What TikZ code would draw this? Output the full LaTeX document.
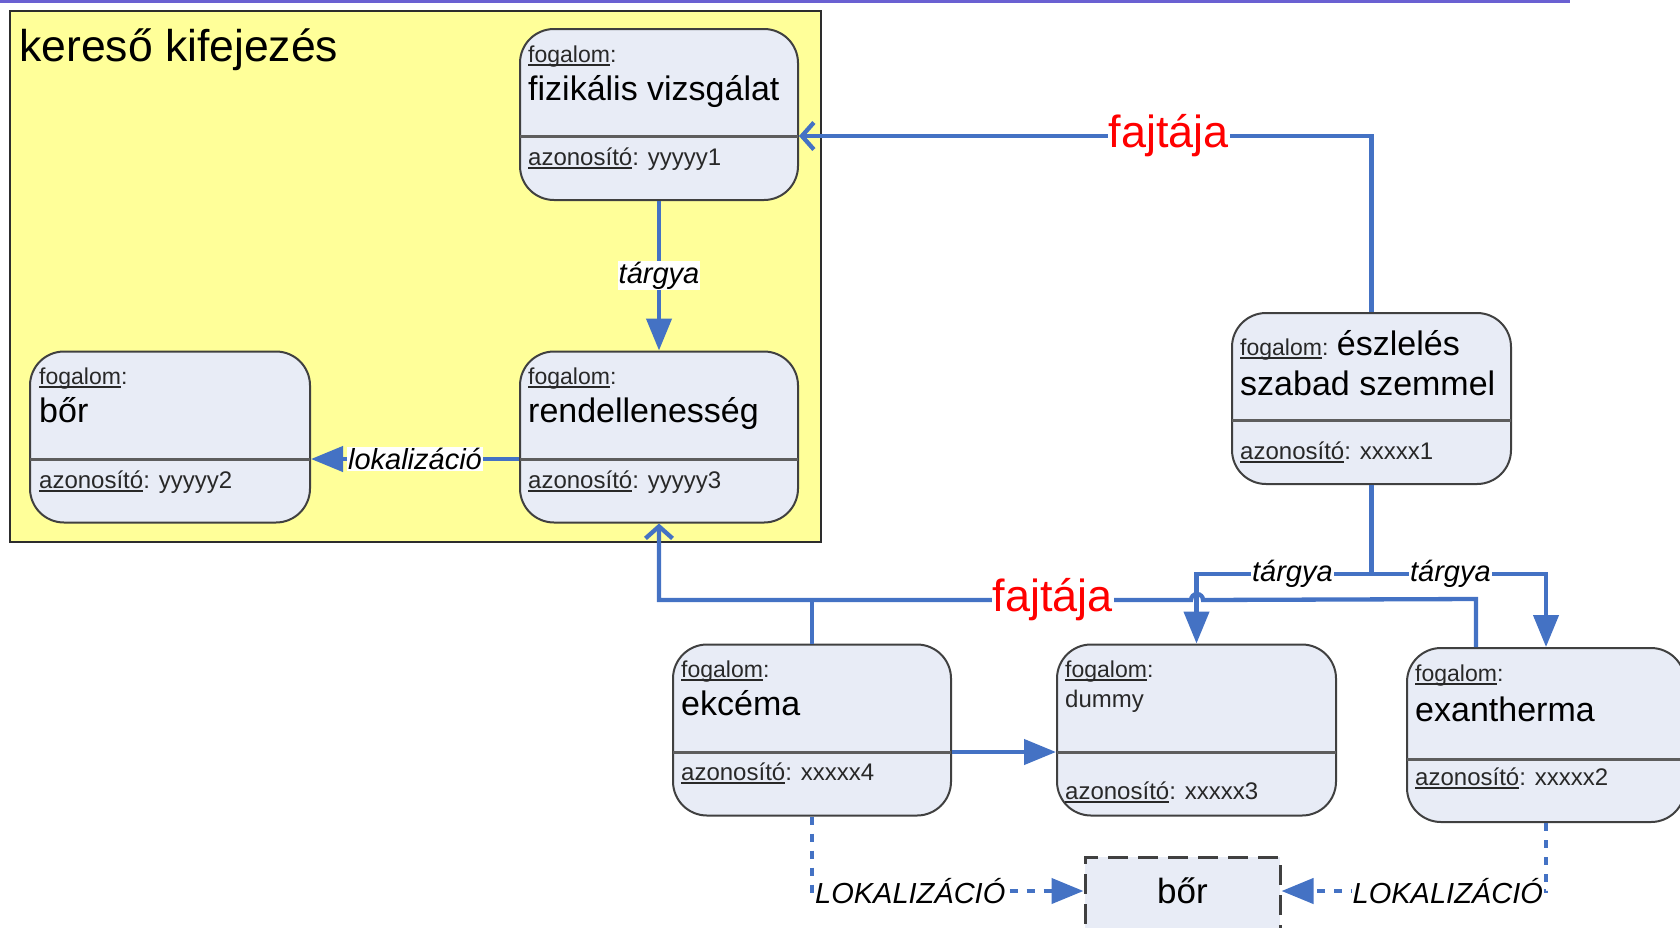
\documentclass[tikz,border=0pt]{standalone}
\usepackage{fontspec}
\setmainfont{Liberation Sans}
\usetikzlibrary{arrows.meta}
\definecolor{lnblue}{RGB}{68,114,196}
\definecolor{boxfill}{RGB}{232,236,246}
\definecolor{boxline}{RGB}{64,64,64}
\definecolor{yel}{RGB}{255,255,153}
\definecolor{topline}{RGB}{106,96,210}
\definecolor{txtgray}{RGB}{40,40,40}
\definecolor{fajred}{RGB}{255,0,0}
\newcommand{\fsz}[1]{\fontsize{#1}{#1}\selectfont}
\newcommand{\myul}[1]{\setbox0\hbox{#1}\rlap{\vrule height -0.1em depth 0.16em width \wd0}\box0}
\begin{document}
\begin{tikzpicture}[x=1pt,y=-1pt,
 concept/.style={draw=boxline, line width=2pt, fill=boxfill, rounded corners=34pt, minimum width=278pt, minimum height=171pt, inner sep=0pt},
 divider/.style={draw=boxline!85, line width=3pt},
 small/.style={anchor=base west, inner sep=0pt, font=\fsz{23}, text=txtgray},
 big/.style={anchor=base west, inner sep=0pt, font=\fsz{34}, text=black},
 conn/.style={draw=lnblue, line width=4.3pt},
 tri/.style={-{Triangle[length=32pt,width=25pt]}},
 barb/.style={-{Straight Barb[length=12pt,width=27pt]}},
 dotc/.style={conn, dash pattern=on 8pt off 9pt},
 lbl/.style={fill=white, inner sep=1pt, font=\fsz{29}\itshape, text=black},
 fajlbl/.style={fill=white, inner sep=1pt, font=\fsz{45}, text=fajred}]
\useasboundingbox (0,0) rectangle (1680,927);
\draw[topline, line width=3pt] (0,1) -- (1570,1);
% yellow frame
\node[draw=boxline!70!black, line width=2pt, fill=yel, minimum width=811pt, minimum height=531pt, inner sep=0pt, anchor=north west] (yb) at (9,10) {};
\node[anchor=base west, inner sep=0pt, font=\fsz{44.5}] (title) at (19,61) {kereső kifejezés};
% boxes
\node[concept] (fiz) at (659,114.5) {};
\draw[divider] (520,136) -- (798,136);
\node[small] (fizF) at (528,62) {\myul{fogalom}:};
\node[big] (fizN) at (528,100) {fizikális vizsgálat};
\node[small,font=\fsz{24}] (fizA) at (528,165) {\myul{azonosító}: yyyyy1};
\node[concept] (ren) at (659,437) {};
\draw[divider] (520,459) -- (798,459);
\node[small] (renF) at (528,384) {\myul{fogalom}:};
\node[big] (renN) at (528,422) {rendellenesség};
\node[small,font=\fsz{24}] (renA) at (528,488) {\myul{azonosító}: yyyyy3};
\node[concept, minimum width=280pt] (borA) at (170,437) {};
\draw[divider] (30,459) -- (310,459);
\node[small] (borAF) at (39,384) {\myul{fogalom}:};
\node[big] (borAN) at (39,422) {bőr};
\node[small,font=\fsz{24}] (borAA) at (39,488) {\myul{azonosító}: yyyyy2};
\node[concept, minimum width=279pt] (esz) at (1371.5,398.5) {};
\draw[divider] (1232,420) -- (1511,420);
\node[big] (eszN) at (1240,355) {{\fsz{23}\color{txtgray}\myul{fogalom}: }észlelés};
\node[big] (eszN2) at (1240,395) {szabad szemmel};
\node[small,font=\fsz{24}] (eszA) at (1240,459) {\myul{azonosító}: xxxxx1};
\node[concept] (ekc) at (812,730) {};
\draw[divider] (673,752) -- (951,752);
\node[small] (ekcF) at (681,677) {\myul{fogalom}:};
\node[big] (ekcN) at (681,715) {ekcéma};
\node[small,font=\fsz{24}] (ekcA) at (681,780) {\myul{azonosító}: xxxxx4};
\node[concept, minimum width=279pt] (dum) at (1196.5,730) {};
\draw[divider] (1057,752) -- (1336,752);
\node[small] (dumF) at (1065,677) {\myul{fogalom}:};
\node[small,font=\fsz{24}] (dumN) at (1065,707) {dummy};
\node[small,font=\fsz{24}] (dumA) at (1065,799) {\myul{azonosító}: xxxxx3};
\node[concept, minimum height=174pt] (exa) at (1546,735) {};
\draw[divider] (1407,759) -- (1685,759);
\node[small] (exaF) at (1415,681) {\myul{fogalom}:};
\node[big] (exaN) at (1415,721) {exantherma};
\node[small,font=\fsz{24}] (exaA) at (1415,785) {\myul{azonosító}: xxxxx2};
\node[draw=boxline, dash pattern=on 20pt off 10pt, line width=3pt, fill=boxfill, minimum width=195pt, minimum height=103pt, inner sep=0pt] (borB) at (1182.5,908.5) {};
\node[anchor=base, inner sep=0pt, font=\fsz{35}] (borBN) at (1182.5,903) {bőr};
% connectors
\draw[conn, barb] (esz.north) |- ([yshift=-21.5pt]fiz.east) node[pos=0.677, fajlbl] (faj1) {fajtája};
\draw[conn, tri] (fiz.south) -- (ren.north) node[midway, lbl] (tar1) {tárgya};
\draw[conn, tri] ([yshift=-22pt]ren.west) -- ([yshift=-22pt]borA.east) node[midway, lbl] (lok1) {lokalizáció};
\draw[conn] (ekc.north) -- ++(0,-44);
\draw[conn, barb] ([xshift=-70pt]exa.north) -- ++(0,-48) -- (1203,600) arc(0:-180:6) -- (659,600) node[pos=0.26, fajlbl] (faj2) {fajtája} -- (ren.south);
\draw[conn, tri] (esz.south) -- ++(0,89) -| (dum.north) node[pos=0.226, lbl] (tar2) {tárgya};
\draw[conn, tri] (esz.south) -- ++(0,89) -| (exa.north) node[pos=0.226, lbl] (tar3) {tárgya};
\draw[conn, tri] ([yshift=-22pt]ekc.east) -- ([yshift=-22pt]dum.west);
\draw[dotc, tri] (ekc.south) |- ([yshift=17.5pt]borB.west) node[pos=0.5, anchor=west, lbl] (lok2) {LOKALIZÁCIÓ};
\draw[dotc, tri] (exa.south) |- ([yshift=17.5pt]borB.east) node[pos=0.5, anchor=east, lbl] (lok3) {LOKALIZÁCIÓ};
\end{tikzpicture}
\end{document}
